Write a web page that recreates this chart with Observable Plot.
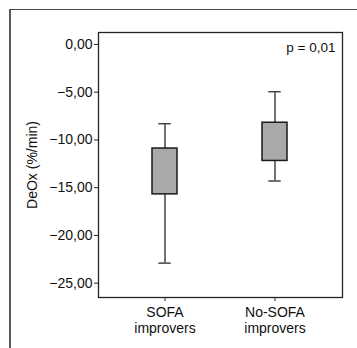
<!DOCTYPE html>
<html>
<head>
<meta charset="utf-8">
<script src="https://cdn.jsdelivr.net/npm/d3@7"></script>
<script src="https://cdn.jsdelivr.net/npm/@observablehq/plot@0.6"></script>
<style>
  html, body { margin: 0; padding: 0; background: #fff; }
  #wrap { position: relative; width: 357px; height: 348px; overflow: hidden; }
  #panel {
    position: absolute; left: 9px; top: 9px; width: 360px; height: 360px;
    border-left: 2px solid #5a5a5a; border-top: 1.5px solid #4a4a4a;
    box-sizing: border-box;
  }
  #chart { position: absolute; left: 0; top: 0; }
  svg text { font-family: "Liberation Sans", Arial, Helvetica, sans-serif; }
</style>
</head>
<body>
<div id="wrap"><div id="panel"></div><div id="chart"></div></div>
<script>
// Groups and summary statistics of DeOx (%/min)
const groups = ["SOFA improvers", "No-SOFA improvers"];
const boxLow = [-15.7, -12.2];
const boxHigh = [-10.9, -8.2];
const whiskerLow = [-22.9, -14.3];
const whiskerHigh = [-8.3, -4.95];
const yTicks = [0, -5, -10, -15, -20, -25];
const pLabel = "p = 0,01";

const rows = groups.map((g, i) => ({
  group: g,
  lo: boxLow[i], hi: boxHigh[i],
  wlo: whiskerLow[i], whi: whiskerHigh[i]
}));

const fmt = d3.formatLocale({
  decimal: ",", thousands: ".", grouping: [3], currency: ["", ""], minus: "\u2212"
}).format(".2f");

const chart = Plot.plot({
  width: 357,
  height: 348,
  marginLeft: 98,
  marginRight: 15,
  marginTop: 32,
  marginBottom: 51,
  style: { background: "transparent", fontSize: "14px", color: "#111" },
  x: {
    domain: groups,
    paddingInner: 0.769,
    paddingOuter: 0.4865,
    label: null
  },
  y: {
    domain: [-26.5, 1.25],
    label: null
  },
  marks: [
    Plot.frame({ stroke: "#222", strokeWidth: 1.3 }),
    Plot.axisY({
      ticks: yTicks, tickSize: 4, tickPadding: 2, tickFormat: fmt,
      fontSize: 14, fill: "#111", stroke: "#222", label: null
    }),
    Plot.axisX({
      tickSize: 4, tickPadding: 5, lineHeight: 1.1,
      tickFormat: d => d.replace(" ", "\n"),
      fontSize: 14, fill: "#111", stroke: "#222", label: null
    }),
    Plot.ruleX(rows, { x: "group", y1: "wlo", y2: "whi", stroke: "#444", strokeWidth: 1.5 }),
    Plot.tickY(rows, { x: "group", y: "wlo", stroke: "#444", strokeWidth: 1.5, insetLeft: 6.3, insetRight: 6.3 }),
    Plot.tickY(rows, { x: "group", y: "whi", stroke: "#444", strokeWidth: 1.5, insetLeft: 6.3, insetRight: 6.3 }),
    Plot.barY(rows, { x: "group", y1: "lo", y2: "hi", fill: "#a9a9a9", stroke: "#1a1a1a", strokeWidth: 1.5 }),
    Plot.text([pLabel], {
      frameAnchor: "top-right", dx: -7, dy: 15, textAnchor: "end", lineAnchor: "middle",
      fontSize: 13.5, fill: "#111"
    }),
    Plot.text(["DeOx (%/min)"], {
      frameAnchor: "left", dx: -65.5, rotate: -90, textAnchor: "middle", lineAnchor: "middle",
      fontSize: 14, fill: "#111"
    })
  ]
});

document.getElementById("chart").appendChild(chart);
</script>
</body>
</html>
